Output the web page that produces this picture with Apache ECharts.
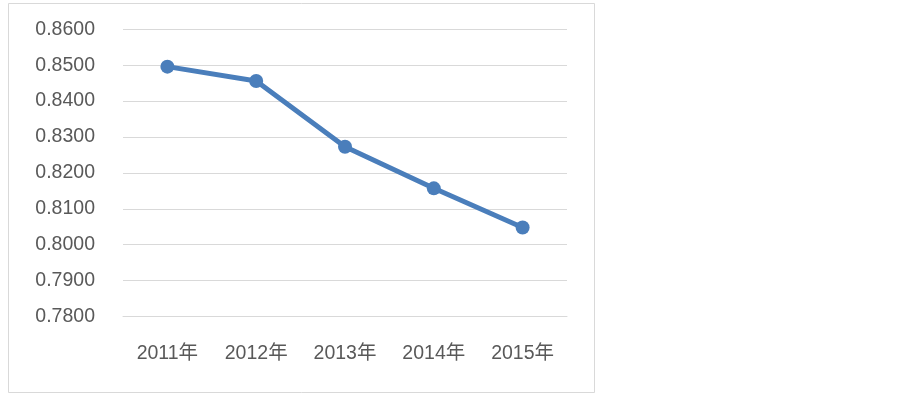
<!DOCTYPE html>
<html>
<head>
<meta charset="utf-8">
<script src="https://cdn.jsdelivr.net/npm/echarts@6/dist/echarts.min.js"></script>
<style>
html,body{margin:0;padding:0;background:#fff;}
#c{width:903px;height:396px;}
</style>
</head>
<body>
<div id="c"></div>
<script>
const categories = ['2011年', '2012年', '2013年', '2014年', '2015年'];
const values = [0.8496, 0.8456, 0.8273, 0.8157, 0.8048];
const yMin = 0.78, yMax = 0.86, yStep = 0.01;

const chart = echarts.init(document.getElementById('c'), null, {renderer: 'canvas'});
chart.setOption({
  animation: false,
  backgroundColor: '#fff',
  graphic: [{
    type: 'rect',
    shape: {x: 8.5, y: 3.5, width: 586, height: 389},
    style: {fill: 'none', stroke: '#d9d9d9', lineWidth: 1}
  }],
  grid: {left: 123, right: 336, top: 29.3, bottom: 79.5, containLabel: false},
  xAxis: {
    type: 'category',
    data: categories,
    boundaryGap: true,
    axisLine: {show: true, lineStyle: {color: '#d9d9d9', width: 1}},
    axisTick: {show: false},
    axisLabel: {color: '#595959', fontSize: 19.5, fontFamily: 'Liberation Sans, Noto Sans CJK SC', margin: 27}
  },
  yAxis: {
    type: 'value',
    min: yMin, max: yMax, interval: yStep,
    axisLine: {show: false},
    axisTick: {show: false},
    splitLine: {lineStyle: {color: '#d9d9d9', width: 1}},
    axisLabel: {
      color: '#595959', fontSize: 19.5, fontFamily: 'Liberation Sans', margin: 28,
      formatter: v => v.toFixed(4)
    }
  },
  series: [{
    type: 'line',
    data: values,
    symbol: 'circle',
    symbolSize: 14,
    lineStyle: {color: '#4a7ebb', width: 5},
    itemStyle: {color: '#4a7ebb'}
  }]
});
</script>
</body>
</html>
